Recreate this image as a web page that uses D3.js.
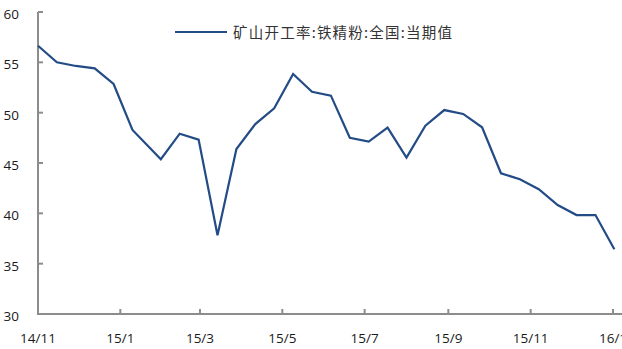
<!DOCTYPE html>
<html>
<head>
<meta charset="utf-8">
<script src="https://cdn.jsdelivr.net/npm/d3@7/dist/d3.min.js"></script>
<style>
  html, body { margin: 0; padding: 0; background: #fff; }
  svg { display: block; }
</style>
</head>
<body>
<svg id="chart" width="622" height="349"></svg>
<script>
// 矿山开工率:铁精粉:全国:当期值 — biweekly observations
const dates = [
  "2014-11-01", "2014-11-15", "2014-11-29", "2014-12-13", "2014-12-27",
  "2015-01-10", "2015-01-31", "2015-02-14", "2015-02-28", "2015-03-14",
  "2015-03-28", "2015-04-11", "2015-04-25", "2015-05-09", "2015-05-23",
  "2015-06-06", "2015-06-20", "2015-07-04", "2015-07-18", "2015-08-01",
  "2015-08-15", "2015-08-29", "2015-09-12", "2015-09-26", "2015-10-10",
  "2015-10-24", "2015-11-07", "2015-11-21", "2015-12-05", "2015-12-19",
  "2016-01-02"
];
const values = [
  56.65, 55.0, 54.64, 54.4, 52.85,
  48.28, 45.37, 47.91, 47.32, 37.82,
  46.39, 48.87, 50.43, 53.84, 52.08,
  51.69, 47.51, 47.12, 48.51, 45.53,
  48.71, 50.26, 49.87, 48.55, 43.98,
  43.38, 42.39, 40.83, 39.83, 39.83,
  36.43
];
const seriesName = "矿山开工率:铁精粉:全国:当期值";
const yTicks = [30, 35, 40, 45, 50, 55, 60];
const xTickDates = ["2014-11-01", "2015-01-01", "2015-03-01", "2015-05-01",
                    "2015-07-01", "2015-09-01", "2015-11-01", "2016-01-01"];
const xTickLabels = ["14/11", "15/1", "15/3", "15/5", "15/7", "15/9", "15/11", "16/1"];

const parse = d3.timeParse("%Y-%m-%d");
const data = dates.map((d, i) => ({ date: parse(d), value: values[i] }));

const svg = d3.select("#chart");
const lineColor = "#234b85";
const axisColor = "#8c8c8c";
const textColor = "#1a1a1a";

const x = d3.scaleTime()
  .domain([parse("2014-11-01"), parse("2016-01-01")])
  .range([38, 613]);
const y = d3.scaleLinear().domain([30, 60]).range([314, 12]);

// y axis: ticks pointing into the plot
const yAxis = svg.append("g").attr("transform", "translate(38,0)");
yAxis.append("line")
  .attr("x1", 0).attr("x2", 0).attr("y1", y(60)).attr("y2", y(30))
  .attr("stroke", axisColor).attr("stroke-width", 2);
yAxis.selectAll("line.tick").data(yTicks).enter().append("line")
  .attr("class", "tick")
  .attr("x1", 0).attr("x2", 5)
  .attr("y1", d => y(d)).attr("y2", d => y(d))
  .attr("stroke", axisColor).attr("stroke-width", 2);
yAxis.selectAll("text").data(yTicks).enter().append("text")
  .attr("x", -19).attr("y", d => y(d) + 7)
  .attr("text-anchor", "end")
  .attr("font-family", "'Open Sans', sans-serif")
  .attr("font-size", "13.5px")
  .attr("fill", textColor)
  .text(d => d);

// x axis
const xAxis = svg.append("g").attr("transform", "translate(0,314)");
xAxis.append("line")
  .attr("x1", 37).attr("x2", 622).attr("y1", 0).attr("y2", 0)
  .attr("stroke", axisColor).attr("stroke-width", 2);
const xt = xTickDates.map((d, i) => ({ date: parse(d), label: xTickLabels[i] }));
xAxis.selectAll("line.tick").data(xt.slice(1)).enter().append("line")
  .attr("class", "tick")
  .attr("x1", d => x(d.date)).attr("x2", d => x(d.date))
  .attr("y1", 0).attr("y2", -5)
  .attr("stroke", axisColor).attr("stroke-width", 2);
xAxis.selectAll("text").data(xt).enter().append("text")
  .attr("x", d => x(d.date)).attr("y", 29)
  .attr("text-anchor", "middle")
  .attr("font-family", "'Open Sans', sans-serif")
  .attr("font-size", "13.5px")
  .attr("fill", textColor)
  .text(d => d.label);

// series line
const line = d3.line().x(d => x(d.date)).y(d => y(d.value));
svg.append("path")
  .datum(data)
  .attr("d", line)
  .attr("fill", "none")
  .attr("stroke", lineColor)
  .attr("stroke-width", 2.2)
  .attr("stroke-linejoin", "miter");

// legend
const legend = svg.append("g");
legend.append("line")
  .attr("x1", 175).attr("x2", 227).attr("y1", 32).attr("y2", 32)
  .attr("stroke", lineColor).attr("stroke-width", 2.2);
legend.append("text")
  .attr("x", 233).attr("y", 38)
  .attr("font-family", "'Noto Sans CJK SC', sans-serif")
  .attr("font-size", "14.5px")
  .attr("fill", "#333")
  .attr("textLength", 219)
  .attr("lengthAdjust", "spacing")
  .text(seriesName);
</script>
</body>
</html>
